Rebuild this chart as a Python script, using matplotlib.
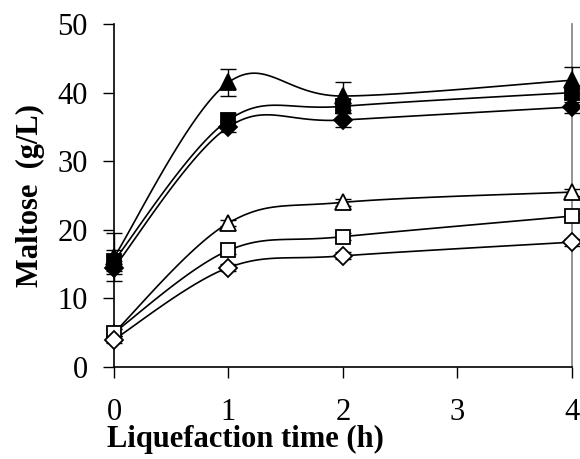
import numpy as np
import matplotlib
matplotlib.use("Agg")
import matplotlib.pyplot as plt

time_h = [0, 1, 2, 4]
tri_filled = [16.0, 41.5, 39.5, 41.8]
sq_filled = [15.5, 36.0, 38.0, 40.0]
dia_filled = [14.5, 35.0, 36.0, 37.9]
tri_open = [5.0, 21.0, 24.0, 25.5]
sq_open = [5.0, 17.0, 19.0, 22.0]
dia_open = [4.0, 14.5, 16.2, 18.2]

err_tri_filled = [3.5, 2.0, 2.0, 2.0]
err_sq_filled = [1.5, 1.0, 1.0, 1.0]
err_dia_filled = [1.0, 0.8, 1.0, 0.8]
err_open = [0.5, 0.5, 0.5, 0.5]

x_ticks = [0, 1, 2, 3, 4]
y_ticks = [0, 10, 20, 30, 40, 50]


def excel_smooth(x, y, n=40):
    x = np.asarray(x, float)
    y = np.asarray(y, float)
    P = np.column_stack([x, y])
    out = [P[0]]
    m = len(P)
    for i in range(m - 1):
        p0 = P[i - 1] if i > 0 else P[i]
        p1 = P[i]
        p2 = P[i + 1]
        p3 = P[i + 2] if i + 2 < m else P[i + 1]
        c1 = p1 + (p2 - p0) / 6.0
        c2 = p2 - (p3 - p1) / 6.0
        t = np.linspace(0, 1, n)[1:, None]
        seg = ((1 - t) ** 3) * p1 + 3 * ((1 - t) ** 2) * t * c1 + 3 * (1 - t) * t ** 2 * c2 + t ** 3 * p2
        out.extend(seg)
    out = np.array(out)
    return out[:, 0], out[:, 1]


plt.rcParams['font.family'] = ['Liberation Serif', 'DejaVu Serif']
fig = plt.figure(figsize=(5.8, 4.59), dpi=100)
ax = fig.add_axes([0.1966, 0.2004, 0.7894, 0.7473])

series = [
    (tri_filled, err_tri_filled, '^', 'black'),
    (sq_filled, err_sq_filled, 's', 'black'),
    (dia_filled, err_dia_filled, 'D', 'black'),
    (tri_open, err_open, '^', 'white'),
    (sq_open, err_open, 's', 'white'),
    (dia_open, err_open, 'D', 'white'),
]

for yv, ev, mk, fc in series:
    sx, sy = excel_smooth(time_h, yv)
    ax.plot(sx, sy, color='black', lw=1.2, zorder=2, clip_on=False)
    ax.errorbar(time_h, yv, yerr=ev, fmt='none', ecolor='black', elinewidth=1.0,
                capsize=6, capthick=1.0, zorder=3, clip_on=False)
    ms = {'D': 9, 's': 10.5, '^': 11.5}[mk]
    ax.plot(time_h, yv, linestyle='none', marker=mk, markersize=ms,
            markerfacecolor=fc, markeredgecolor='black', markeredgewidth=1.3,
            zorder=4, clip_on=False)

ax.set_xlim(0, 4)
ax.set_ylim(0, 50)
ax.set_xticks(x_ticks)
ax.set_yticks(y_ticks)
ax.tick_params(direction='out', length=8, width=1, labelsize=22)
ax.tick_params(axis='x', pad=14)
ax.tick_params(axis='y', pad=11)
ax.spines['top'].set_visible(False)
ax.spines['right'].set_color('#808080')
ax.spines['right'].set_linewidth(1.2)
for s in ['left', 'bottom']:
    ax.spines[s].set_linewidth(1.2)

ax.set_ylabel('Maltose  (g/L)', fontsize=22, fontweight='bold')
ax.set_xlabel('Liquefaction time (h)', fontsize=22, fontweight='bold')
ax.xaxis.set_label_coords(0.286, -0.17)
ax.yaxis.set_label_coords(-0.15, 0.5)

fig.savefig('out.png', dpi=100)
